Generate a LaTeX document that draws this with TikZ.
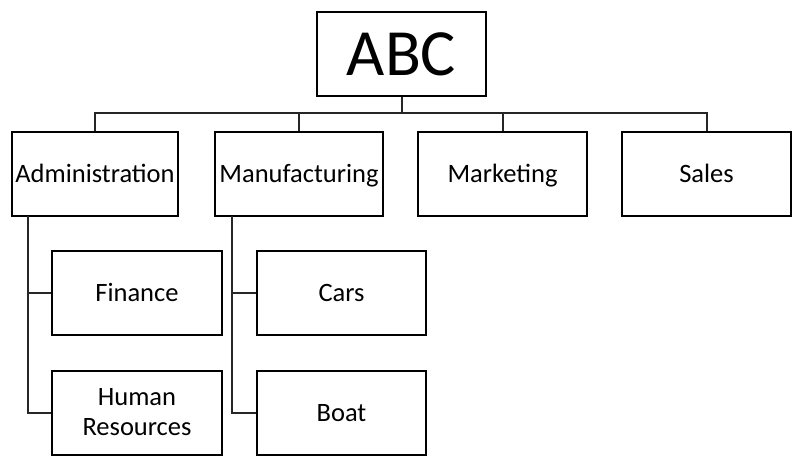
\documentclass[tikz,border=0pt]{standalone}
\usepackage{fontspec}
\setmainfont{Carlito}
\begin{document}
\begin{tikzpicture}[x=1pt,y=-1pt,
  box/.style={draw=black,line width=2pt,inner sep=0pt,minimum height=84pt,
    font=\fontsize{26.5}{30}\selectfont},
  one/.style={text height=17pt,text depth=0pt},
  big/.style={text height=42.5pt,text depth=0pt,font=\fontsize{66}{70}\selectfont},
  conn/.style={draw=black!85,line width=2pt}]
\useasboundingbox (0,0) rectangle (801,471);
\node[box,big,minimum width=169pt] (abc) at (401.5,54) {ABC};
\node[box,one,minimum width=166pt] (admin) at (95,174) {Administration};
\node[box,one,minimum width=168pt] (manu) at (299,174) {Manufacturing};
\node[box,one,minimum width=169pt] (mark) at (502.5,174) {Marketing};
\node[box,one,minimum width=169pt] (sales) at (706.5,174) {Sales};
\node[box,one,minimum width=170pt] (fin) at (137,293) {Finance};
\node[box,align=center,minimum width=170pt] (hr) at (137,412.5) {Human\\Resources};
\node[box,one,minimum width=169pt] (cars) at (341.5,293) {Cars};
\node[box,one,minimum width=169pt] (boat) at (341.5,412.5) {Boat};
\coordinate (bus) at (401.5,113);
\coordinate (aTop) at (28,216);
\coordinate (mTop) at (232,216);
\draw[conn] (abc.south) -- (bus);
\draw[conn] (admin.north) |- (bus) -| (sales.north);
\draw[conn] (manu.north) -- (manu.north |- bus);
\draw[conn] (mark.north) -- (mark.north |- bus);
\draw[conn] (aTop) |- (hr.west);
\draw[conn] (aTop |- fin.west) -- (fin.west);
\draw[conn] (mTop) |- (boat.west);
\draw[conn] (mTop |- cars.west) -- (cars.west);
\end{tikzpicture}
\end{document}
